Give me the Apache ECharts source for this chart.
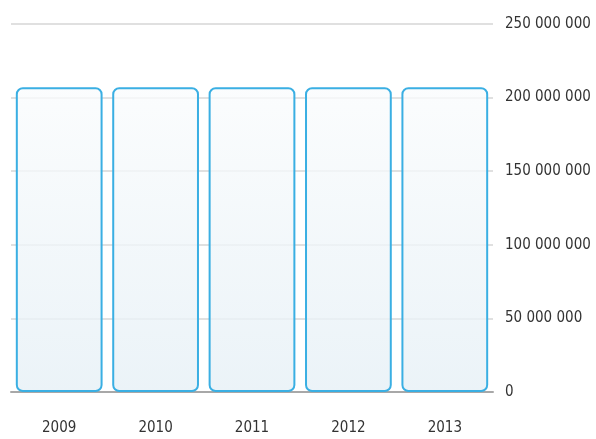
<!DOCTYPE html>
<html>
<head>
<meta charset="utf-8">
<script src="https://cdn.jsdelivr.net/npm/echarts@6/dist/echarts.min.js"></script>
<style>
html, body { margin: 0; padding: 0; background: #fff; }
#main { width: 596px; height: 439px; }
</style>
</head>
<body>
<div id="main"></div>
<script>
// years on the x axis
var years = ['2009', '2010', '2011', '2012', '2013'];
// bar values (all about the same height)
var values = [207000000, 207000000, 207000000, 207000000, 207000000];
// y axis range
var yMin = 0;
var yMax = 250000000;
var yStep = 50000000;

var labelFont = "'DejaVu Sans Condensed', 'DejaVu Sans', sans-serif";

function spaced(v) {
    return String(v).replace(/\B(?=(\d{3})+(?!\d))/g, ' ');
}

var option = {
    animation: false,
    grid: {
        left: 11,
        right: 103,
        top: 24,
        bottom: 47
    },
    xAxis: {
        type: 'category',
        data: years,
        axisTick: { show: false },
        axisLine: {
            lineStyle: { color: '#a8a8a8', width: 2 }
        },
        axisLabel: {
            margin: 29,
            color: '#333',
            fontSize: 15,
            fontFamily: labelFont
        }
    },
    yAxis: {
        type: 'value',
        position: 'right',
        min: yMin,
        max: yMax,
        interval: yStep,
        axisLine: { show: false },
        axisTick: { show: false },
        splitLine: {
            lineStyle: { color: '#e0e0e0', width: 2 }
        },
        axisLabel: {
            margin: 12,
            color: '#333',
            fontSize: 15,
            fontFamily: labelFont,
            formatter: spaced
        }
    },
    series: [{
        type: 'bar',
        data: values,
        barCategoryGap: '10%',
        itemStyle: {
            color: {
                type: 'linear', x: 0, y: 0, x2: 0, y2: 1,
                colorStops: [
                    { offset: 0, color: 'rgba(250,252,253,0.8)' },
                    { offset: 1, color: 'rgba(230,240,246,0.8)' }
                ]
            },
            borderColor: '#3aafe3',
            borderWidth: 2,
            borderRadius: 6
        }
    }]
};

var chart = echarts.init(document.getElementById('main'));
chart.setOption(option);
</script>
</body>
</html>
